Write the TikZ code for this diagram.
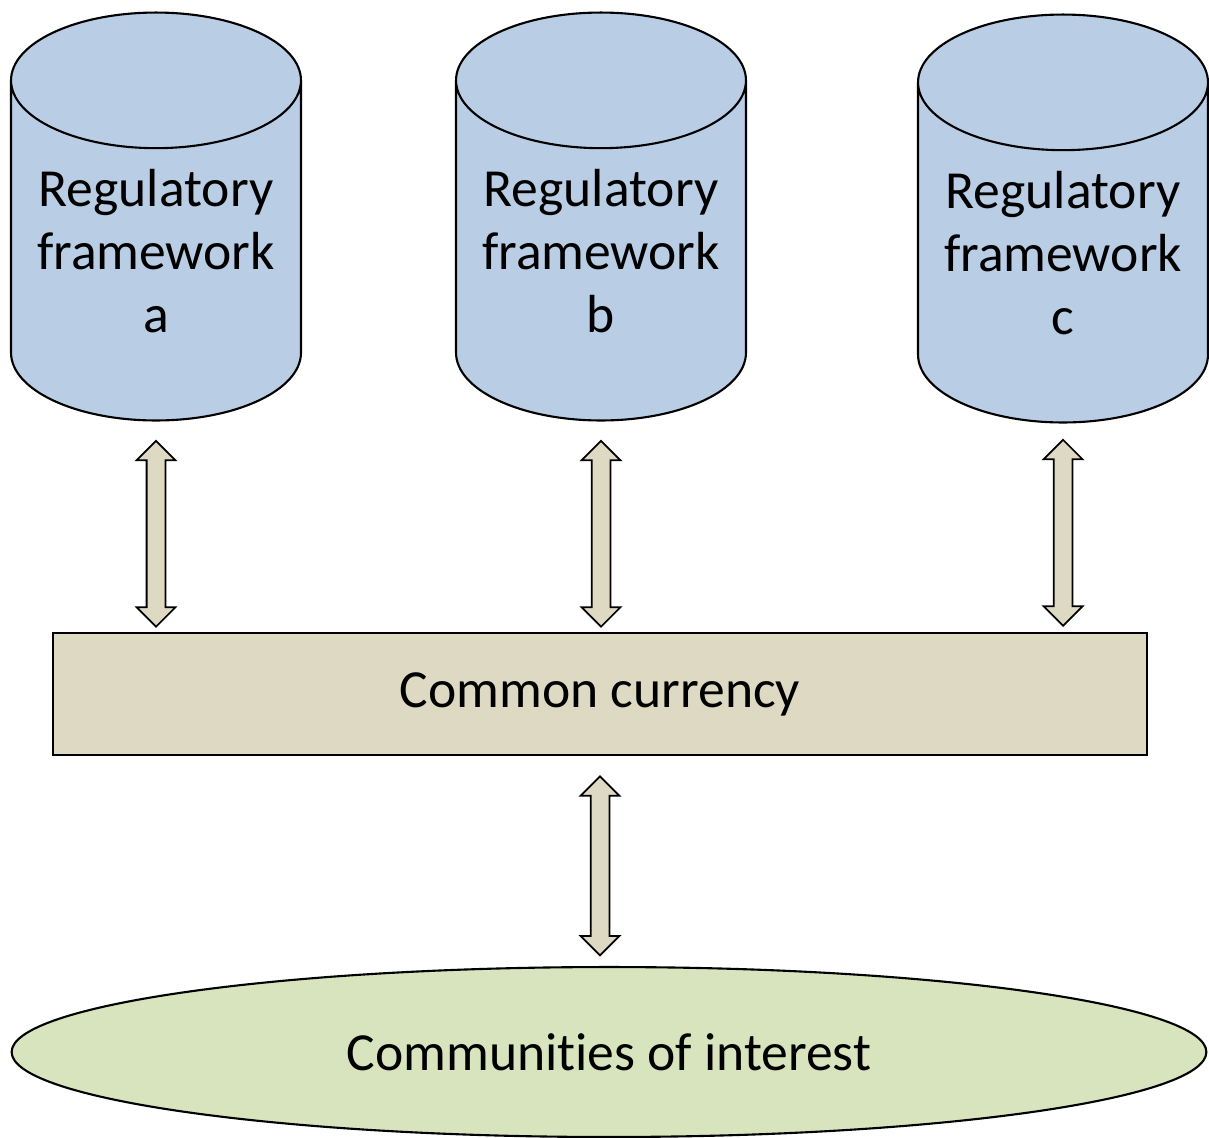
\documentclass[tikz,border=0pt]{standalone}
\usepackage{fontspec}
\setmainfont[Ligatures=NoCommon]{Carlito}
\usepackage{xcolor}
\usepackage{tikz}
\usetikzlibrary{shapes.geometric,shapes.arrows,positioning}
\definecolor{cylblue}{HTML}{B9CDE5}
\definecolor{currtan}{HTML}{DDD9C3}
\definecolor{commgreen}{HTML}{D7E4BD}
\tikzset{
  cyl/.style={draw, line width=1.2pt, fill=cylblue, shape=cylinder, shape border rotate=90,
    aspect=0.57, minimum width=5.8cm, minimum height=8.16cm, inner sep=0pt, align=center,
    font=\fontsize{30.5}{36}\selectfont},
  dblarr/.style={draw, line width=1pt, fill=currtan, shape=double arrow, shape border rotate=90,
    inner sep=0.17cm, double arrow head extend=0.2cm, double arrow head indent=0pt},
  currbox/.style={draw, line width=1.2pt, fill=currtan, minimum width=21.9cm, minimum height=2.44cm,
    font=\fontsize{30.5}{36}\selectfont},
  commell/.style={draw, line width=1.2pt, fill=commgreen, ellipse, minimum width=23.9cm, minimum height=3.4cm,
    inner sep=0pt, font=\fontsize{30.5}{36}\selectfont}
}
\begin{document}
\begin{tikzpicture}[x=0.02cm, y=-0.02cm]
    \useasboundingbox (0,0) rectangle (1209,1137);
    \node[cyl, anchor=shape center] (cyla) at (156,216.5) {Regulatory\\framework\\a};
    \node[cyl, anchor=shape center] (cylb) at (601,216.5) {Regulatory\\framework\\b};
    \node[cyl, anchor=shape center] (cylc) at (1063,218.5) {Regulatory\\framework\\c};
    \node[currbox] (cur) at (600,694) {Common currency};
    \node[commell] (comm) at (609,1052) {Communities of interest};
    \node[dblarr, minimum height=3.72cm, below=0.36cm of cyla] (arra) {};
    \node[dblarr, minimum height=3.72cm, below=0.36cm of cylb] (arrb) {};
    \node[dblarr, minimum height=3.72cm, below=0.3cm of cylc] (arrc) {};
    \node[dblarr, minimum height=3.58cm, below=0.38cm of cur] (arrd) {};
\end{tikzpicture}
\end{document}
